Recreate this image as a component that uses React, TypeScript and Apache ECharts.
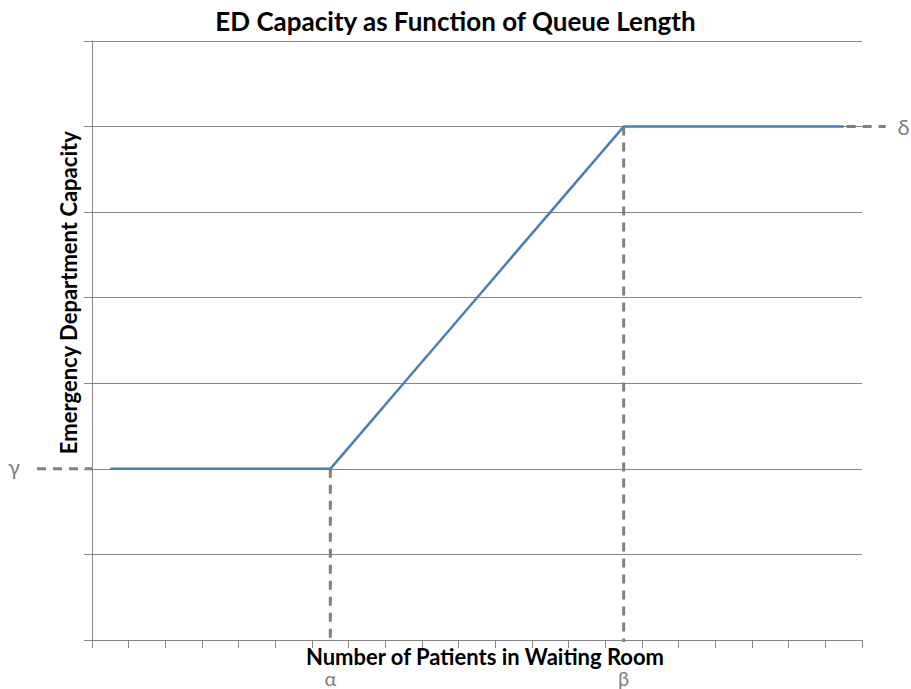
import React, { useEffect, useRef } from "react";
import * as echarts from "echarts";

const categories = ["1","2","3","4","5","6","7","8","9","10","11","12","13","14","15","16","17","18","19","20","21"];
const capacity = [2, 2, 2, 2, 2, 2, 2, 2.5, 3, 3.5, 4, 4.5, 5, 5.5, 6, 6, 6, 6, 6, 6, 6];
const alphaIndex = 6;
const betaIndex = 14;
const gammaValue = 2;
const deltaValue = 6;
const greekLabels = ["α", "β", "γ", "δ"];
const yAxisTitle = "Emergency Department Capacity";

const FONT = "Lato";
const GUIDE = "#808080";

export default function App() {
  const ref = useRef<HTMLDivElement>(null);
  useEffect(() => {
    if (!ref.current) return;
    const chart = echarts.init(ref.current, null, { renderer: "svg" });
    chart.setOption({
      animation: false,
      backgroundColor: "#ffffff",
      title: {
        text: "ED Capacity as Function of Queue Length",
        left: "center",
        top: 3,
        textStyle: { fontFamily: FONT, fontSize: 26, fontWeight: "bold", color: "#000" },
      },
      grid: { left: 92, right: 49, top: 41, bottom: 49 },
      xAxis: {
        type: "category",
        data: categories,
        boundaryGap: true,
        name: "Number of Patients in Waiting Room",
        nameLocation: "middle",
        nameGap: 6,
        nameTextStyle: {
          fontFamily: FONT,
          fontSize: 22,
          lineHeight: 20,
          fontWeight: "bold",
          color: "#000",
          padding: [0, 0, 0, 16],
        },
        axisLine: { lineStyle: { color: "#868686", width: 1 } },
        axisTick: { show: true, length: 8, inside: false, lineStyle: { color: "#868686" } },
        axisLabel: { show: false },
        splitLine: { show: false },
      },
      yAxis: {
        type: "value",
        min: 0,
        max: 7,
        interval: 1,
        axisLine: { show: true, lineStyle: { color: "#868686", width: 1 } },
        axisTick: { show: true, length: 8, lineStyle: { color: "#868686" } },
        axisLabel: { show: false },
        splitLine: { show: true, lineStyle: { color: "#868686", width: 1 } },
      },
      series: [
        {
          type: "line",
          data: capacity,
          symbol: "none",
          lineStyle: { color: "#4A7EBB", width: 2.5 },
        },
      ],
    });

    const px = (i: number, v: number) => chart.convertToPixel({ seriesIndex: 0 }, [i, v]) as number[];
    const g0 = px(0, gammaValue);
    const aTop = px(alphaIndex, gammaValue);
    const aBot = px(alphaIndex, 0);
    const bTop = px(betaIndex, deltaValue);
    const bBot = px(betaIndex, 0);
    const dEnd = px(categories.length - 1, deltaValue);
    const axisLeft = px(0, 0)[0] - 18.3;
    const dashStyle = { stroke: GUIDE, lineWidth: 3, lineDash: [9, 7] };
    const txt = (x: number, y: number, s: string, size: number) => ({
      type: "text",
      x,
      y,
      style: { text: s, fill: GUIDE, font: `${size}px ${FONT}`, textAlign: "center", textVerticalAlign: "middle" },
    });
    chart.setOption({
      graphic: [
        { type: "line", shape: { x1: 37, y1: g0[1], x2: axisLeft, y2: g0[1] }, style: dashStyle },
        { type: "line", shape: { x1: dEnd[0] + 3, y1: dEnd[1], x2: dEnd[0] + 42, y2: dEnd[1] }, style: dashStyle },
        { type: "line", shape: { x1: aTop[0], y1: aTop[1], x2: aBot[0], y2: aBot[1] + 2 }, style: dashStyle },
        { type: "line", shape: { x1: bTop[0], y1: bTop[1], x2: bBot[0], y2: bBot[1] + 2 }, style: dashStyle },
        txt(aBot[0], aBot[1] + 38, greekLabels[0], 20),
        txt(bBot[0], bBot[1] + 38, greekLabels[1], 20),
        txt(14, g0[1] - 2, greekLabels[2], 22),
        txt(dEnd[0] + 60, dEnd[1], greekLabels[3], 22),
        {
          type: "text",
          x: axisLeft - 24,
          y: (bTop[1] + g0[1]) / 2 - 5,
          rotation: Math.PI / 2,
          style: {
            text: yAxisTitle,
            fill: "#000",
            font: `bold 22px ${FONT}`,
            textAlign: "center",
            textVerticalAlign: "middle",
          },
        },
      ],
    });
    return () => chart.dispose();
  }, []);
  return <div ref={ref} style={{ width: 911, height: 689, position: "absolute", left: 0, top: 0 }} />;
}
